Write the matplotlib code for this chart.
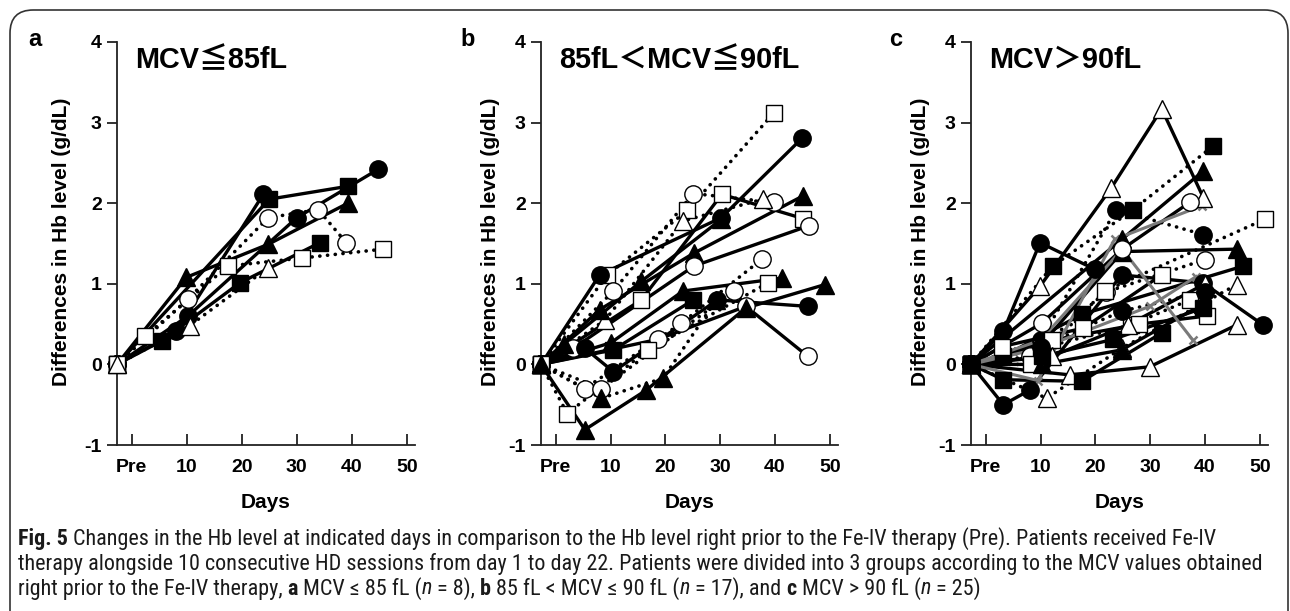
import matplotlib
matplotlib.use('Agg')
import matplotlib.pyplot as plt
from matplotlib import font_manager
from matplotlib.patches import FancyBboxPatch

W, H = 1290, 611
PRE_X = -2.7

X_TICKS = [0, 10, 20, 30, 40, 50]
X_TICKLABELS = ['Pre', '10', '20', '30', '40', '50']
Y_TICKS = [-1, 0, 1, 2, 3, 4]
PANEL_LETTERS = ['a', 'b', 'c']
PANEL_TITLES = ['MCV≦85fL', '85fL＜MCV≦90fL', 'MCV＞90fL']
Y_LABEL = 'Differences in Hb level (g/dL)'
X_LABEL = 'Days'

# symbol codes: o filled circle, O open circle, s filled square, S open square,
# ^ filled triangle, T open triangle, g grey line
# ---------------- panel a (n = 8)
A_DAYS = [[8.1, 23.9], [10.2, 30.0, 44.8], [5.4, 19.6, 34.2], [25.0, 39.3],
          [9.9, 24.8, 39.3], [10.2, 24.8, 33.9, 39.0], [2.4, 17.5, 31.0, 45.7],
          [10.5, 24.8]]
A_VALS = [[0.41, 2.11], [0.60, 1.82, 2.42], [0.29, 1.01, 1.51], [2.05, 2.21],
          [1.08, 1.49, 2.00], [0.81, 1.82, 1.92, 1.51], [0.35, 1.22, 1.32, 1.43],
          [0.48, 1.20]]
A_SYMBOL = ['o', 'o', 's', 's', '^', 'O', 'S', 'T']
A_LINE = ['-', '-', '-', '-', '-', ':', ':', ':']

# ---------------- panel b (n = 17)
B_DAYS = [[9.4, 24.0, 39.8], [8.0, 30.2, 45.0], [10.5, 25.1, 39.8],
          [15.6, 30.3, 45.1], [9.0, 23.2, 37.8], [8.0, 25.2, 45.1],
          [3.2, 25.2, 46.2], [5.3, 22.9, 37.7], [18.6, 34.7, 46.0],
          [5.3, 10.5, 29.5, 46.0], [5.3, 16.5, 34.7, 49.1], [8.3, 32.5],
          [8.3, 19.6, 29.3], [10.1, 23.2, 41.2], [10.5, 25.1],
          [2.1, 16.8, 38.7], [1.5, 15.6, 30.2]]
B_VALS = [[1.11, 1.91, 3.12], [1.11, 1.82, 2.81], [0.91, 2.12, 2.01],
          [0.80, 2.11, 1.81], [0.55, 1.78, 2.05], [0.68, 1.38, 2.09],
          [0.20, 1.22, 1.72], [-0.30, 0.51, 1.31], [0.31, 0.72, 0.10],
          [0.20, -0.09, 0.80, 0.72], [-0.81, -0.32, 0.70, 0.99], [-0.30, 0.91],
          [-0.42, -0.17, 0.80], [0.27, 0.91, 1.07], [0.18, 0.80],
          [-0.61, 0.18, 1.01], [0.25, 1.03, 1.80]]
B_SYMBOL = ['S', 'o', 'O', 'S', 'T', '^', 'O', 'O', 'O', 'o', '^', 'O', '^', '^', 's', 'S', '^']
B_LINE = [':', '-', ':', '-', ':', '-', '-', ':', '-', '-', '-', ':', ':', '-', '-', ':', '-']

# ---------------- panel c (n = 25)
C_DAYS = [[9.9, 22.9, 32.1, 39.7], [12.2, 26.9, 41.5], [24.8, 39.7],
          [3.2, 9.9, 19.9], [10.0, 23.8, 39.7], [10.2, 24.9, 45.8],
          [10.2, 24.9, 37.2], [8.0, 22.0, 40.0], [8.3, 21.7, 50.9],
          [3.2, 8.0, 24.8, 39.7, 50.6], [15.3, 29.9, 45.8], [11.1, 24.8, 45.8],
          [3.2, 17.5, 32.1], [3.2, 17.5, 47.0], [10.2, 24.8, 39.7],
          [2.9, 17.8, 32.1], [10.0, 26.5, 37.2], [12.0, 28.0, 40.3],
          [12.0, 26.0, 40.0], [10.2, 23.2, 39.7], [10.0, 24.8, 40.0],
          [9.5, 23.5, 39.5], [10.0, 24.9, 37.8], [10.0, 29.9, 38.4]]
C_VALS = [[0.97, 2.19, 3.17, 2.07], [1.22, 1.92, 2.71], [1.55, 2.40],
          [0.41, 1.51, 1.18], [0.30, 1.92, 1.61], [0.25, 1.40, 1.43],
          [0.51, 1.43, 2.01], [0.10, 0.90, 1.30], [0.00, 0.91, 1.80],
          [-0.50, -0.32, 1.11, 1.01, 0.49], [-0.13, -0.03, 0.49], [-0.42, 0.20, 0.99],
          [-0.19, -0.21, 0.39], [0.10, 0.62, 1.22], [0.00, 0.18, 0.75],
          [0.22, 0.45, 1.11], [0.20, 0.49, 0.80], [0.30, 0.50, 0.60],
          [0.10, 0.49, 1.00], [0.10, 0.31, 0.70], [0.22, 0.66, 0.90],
          [-0.20, 1.55, 1.97], [0.30, 1.43, 0.30], [0.20, 0.72, 1.09]]
C_SYMBOL = ['T', 's', '^', 'o', 'o', '^', 'O', 'O', 'S', 'o', 'T', 'T', 's', 's', '^',
            'S', 'S', 'S', 'T', 's', 'o', 'g', 'g', 'g']
C_LINE = ['-', ':', '-', '-', ':', '-', '-', ':', ':', '-', '-', ':', '-', '-', '-',
          '-', ':', '-', '-', '-', ':', '-', '-', '-']

CAPTION = [
    [('Fig. 5', 'bold', 'normal'),
     ('Changes in the Hb level at indicated days in comparison to the Hb level right prior to the Fe-IV therapy (Pre). Patients received Fe-IV', 'normal', 'normal')],
    [('therapy alongside 10 consecutive HD sessions from day 1 to day 22. Patients were divided into 3 groups according to the MCV values obtained', 'normal', 'normal')],
    [('right prior to the Fe-IV therapy,', 'normal', 'normal'), ('a', 'bold', 'normal'),
     ('MCV ≤ 85 fL (', 'normal', 'normal'), ('n', 'normal', 'italic'), ('= 8),', 'normal', 'normal'),
     ('b', 'bold', 'normal'), ('85 fL < MCV ≤ 90 fL (', 'normal', 'normal'), ('n', 'normal', 'italic'),
     ('= 17), and', 'normal', 'normal'), ('c', 'bold', 'normal'),
     ('MCV > 90 fL (', 'normal', 'normal'), ('n', 'normal', 'italic'), ('= 25)', 'normal', 'normal')],
]
# whether a space precedes each run
CAPTION_SPACES = [[False, True], [False],
                  [False, True, True, False, True, True, True, False, True, True, True, False, True]]

available = {f.name for f in font_manager.fontManager.ttflist}
SANS = 'Liberation Sans' if 'Liberation Sans' in available else 'DejaVu Sans'
NARROW = None
for cand in ['Liberation Sans Narrow', 'DejaVu Sans Condensed', 'Roboto Condensed', 'Open Sans Condensed']:
    if cand in available:
        NARROW = cand
        break
if NARROW is None:
    NARROW = 'Roboto' if 'Roboto' in available else SANS

STYLE = {
    'o': dict(marker='o', mfc='black', mec='black', ms=12.5),
    'O': dict(marker='o', mfc='white', mec='black', ms=12.5),
    's': dict(marker='s', mfc='black', mec='black', ms=12),
    'S': dict(marker='s', mfc='white', mec='black', ms=12),
    '^': dict(marker='^', mfc='black', mec='black', ms=13),
    'T': dict(marker='^', mfc='white', mec='black', ms=13),
}

fig = plt.figure(figsize=(W / 100, H / 100), dpi=100)

frame = FancyBboxPatch((10 / W, 1 - 640 / H), 1278 / W, 630 / H,
                       boxstyle='round,pad=0,rounding_size=0.018',
                       transform=fig.transFigure, fill=False, lw=1.2,
                       ec='#333333', mutation_aspect=W / H)
fig.patches.append(frame)

lefts = [117, 541, 971]
rights = [415, 838, 1268]
top_px, bot_px = 42, 445
panels = [(A_DAYS, A_VALS, A_SYMBOL, A_LINE),
          (B_DAYS, B_VALS, B_SYMBOL, B_LINE),
          (C_DAYS, C_VALS, C_SYMBOL, C_LINE)]
letter_x = [35, 468, 896]
title_x = [135, 559, 989]
ylabel_x = [62, 491, 921]

for i, (days, vals, syms, lines) in enumerate(panels):
    ax = fig.add_axes([lefts[i] / W, 1 - bot_px / H, (rights[i] - lefts[i]) / W,
                       (bot_px - top_px) / H])
    ax.set_xlim(PRE_X, 51.5)
    ax.set_ylim(-1, 4)
    for sp in ['top', 'right']:
        ax.spines[sp].set_visible(False)
    for sp in ['left', 'bottom']:
        ax.spines[sp].set_linewidth(1.3)
        ax.spines[sp].set_color('#222222')
    ax.set_xticks(X_TICKS)
    ax.set_xticklabels(X_TICKLABELS)
    ax.set_yticks(Y_TICKS)
    ax.set_yticklabels([str(v) for v in Y_TICKS])
    ax.tick_params(axis='x', direction='in', length=8, width=1.3, pad=10, color='#222222')
    ax.tick_params(axis='y', direction='out', length=7, width=1.3, pad=4, color='#222222')
    for lab in ax.get_xticklabels() + ax.get_yticklabels():
        lab.set_fontfamily(SANS)
        lab.set_fontweight('bold')
        lab.set_fontsize(14)
    ax.patch.set_alpha(0)

    for d, v, s, ls in zip(days, vals, syms, lines):
        xs = [PRE_X] + list(d)
        ys = [0.0] + list(v)
        if s == 'g':
            ax.plot(xs, ys, color='#7a7a7a', lw=2.2, marker='x', ms=6, mew=1.8,
                    clip_on=False, zorder=2)
            continue
        st = STYLE[s]
        if ls == ':':
            ax.plot(xs, ys, color='black', lw=2.6, linestyle=(0, (0.05, 2.1)),
                    dash_capstyle='round', clip_on=False, zorder=2)
        else:
            ax.plot(xs, ys, color='black', lw=2.4, solid_capstyle='round',
                    clip_on=False, zorder=2)
        ax.plot(xs, ys, linestyle='none', marker=st['marker'], ms=st['ms'],
                mfc=st['mfc'], mec=st['mec'], mew=1.0, clip_on=False, zorder=3)

    fig.text(letter_x[i] / W, 1 - 40 / H, PANEL_LETTERS[i], fontsize=17,
             fontweight='bold', family=SANS, ha='center', va='center')
    fig.text(title_x[i] / W, 1 - 60 / H, PANEL_TITLES[i], fontsize=20.8,
             fontweight='bold', family=[SANS, 'Noto Sans CJK JP', 'DejaVu Sans'],
             ha='left', va='center')
    fig.text(ylabel_x[i] / W, 1 - 242 / H, Y_LABEL, fontsize=15, fontweight='bold',
             family=SANS, rotation=90, ha='center', va='center')
    fig.text((lefts[i] + rights[i]) / 2 / W, 1 - 503 / H, X_LABEL, fontsize=15,
             fontweight='bold', family=SANS, ha='center', va='center')

# caption
renderer = fig.canvas.get_renderer()


def draw_caption(size, keep):
    made = []
    widths = []
    probe = fig.text(0, 0, 'a a', fontsize=size, family=NARROW)
    probe2 = fig.text(0, 0, 'aa', fontsize=size, family=NARROW)
    sp = probe.get_window_extent(renderer).width - probe2.get_window_extent(renderer).width
    probe.remove()
    probe2.remove()
    line_y = [539, 564, 589]
    for li, runs in enumerate(CAPTION):
        x = 18.0
        for (txt, wt, sty), gap in zip(runs, CAPTION_SPACES[li]):
            if gap:
                x += sp
            t = fig.text(x / W, 1 - line_y[li] / H, txt, fontsize=size, family=NARROW,
                         fontweight=wt, fontstyle=sty, ha='left', va='center',
                         color='#1a1a1a')
            x += t.get_window_extent(renderer).width
            made.append(t)
        widths.append(x - 18.0)
    if not keep:
        for t in made:
            t.remove()
    return widths


w0 = draw_caption(12, keep=False)
size = 12 * 1242.0 / max(w0)
draw_caption(size, keep=True)

fig.savefig('out.png', dpi=100)
